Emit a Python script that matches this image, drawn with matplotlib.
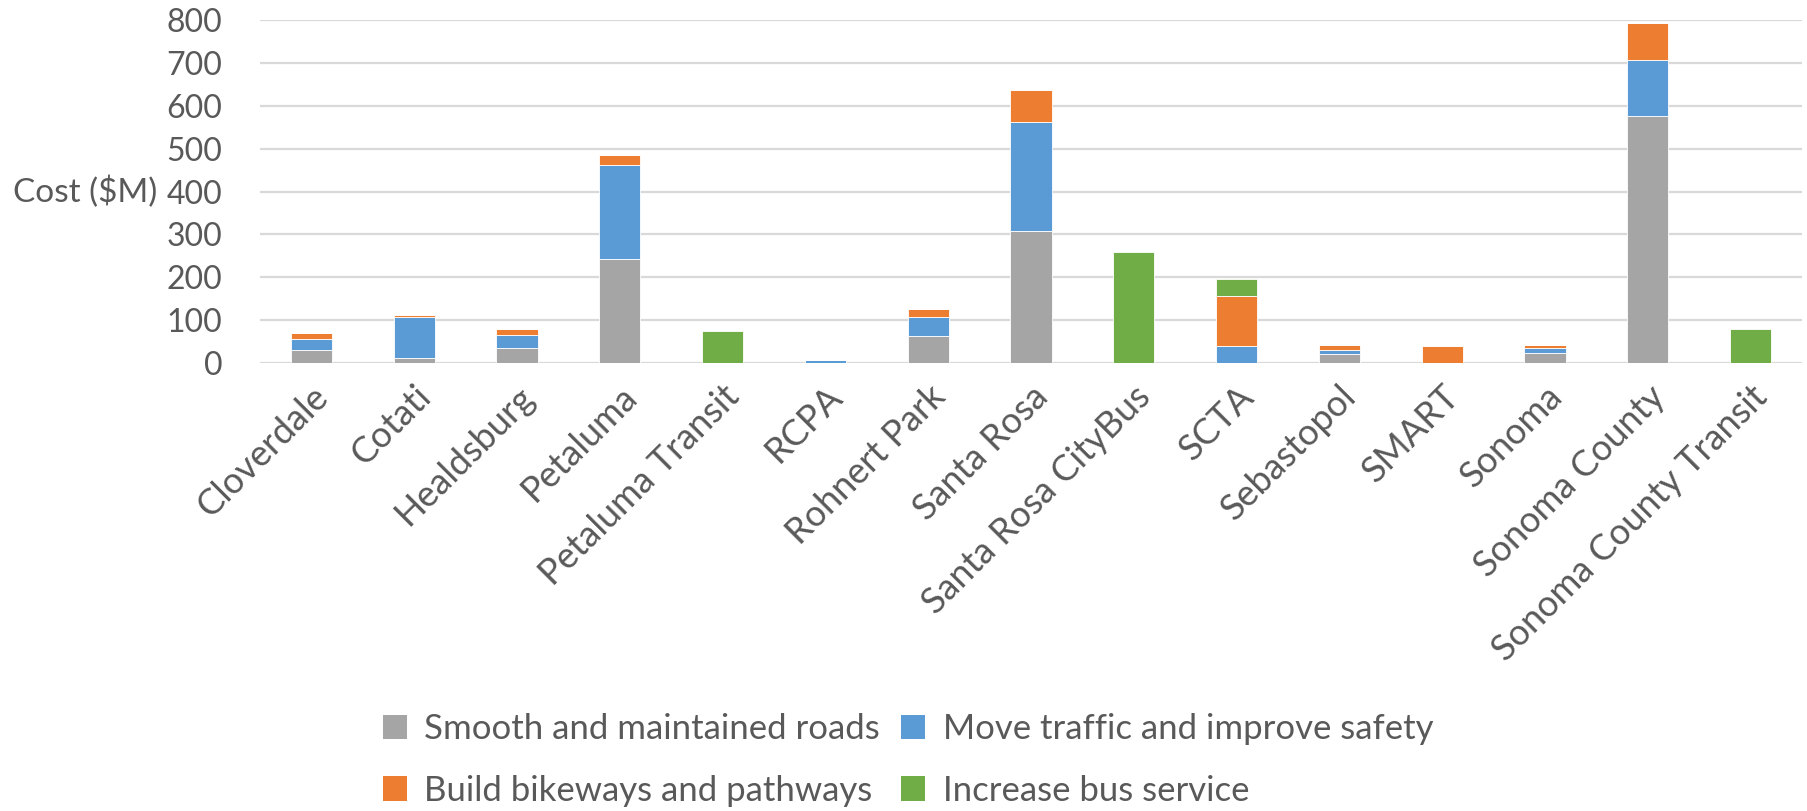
import numpy as np
import matplotlib
matplotlib.use('Agg')
import matplotlib.pyplot as plt
from matplotlib.patches import Patch

plt.rcParams['font.family'] = ['Lato', 'DejaVu Sans']

# Данные
agencies = ['Cloverdale', 'Cotati', 'Healdsburg', 'Petaluma', 'Petaluma Transit', 'RCPA',
            'Rohnert Park', 'Santa Rosa', 'Santa Rosa CityBus', 'SCTA', 'Sebastopol',
            'SMART', 'Sonoma', 'Sonoma County', 'Sonoma County Transit']
roads = [30, 11, 35, 243, 0, 0, 62, 308, 0, 0, 21, 0, 23, 577, 0]
traffic = [25, 97, 31, 220, 0, 6, 45, 253, 0, 40, 9, 0, 13, 129, 0]
bikeways = [15, 3, 13, 22, 0, 1, 18, 75, 0, 116, 13, 40, 6, 86, 0]
bus = [0, 0, 0, 0, 75, 0, 0, 0, 259, 40, 0, 0, 0, 0, 79]

series = ['Smooth and maintained roads', 'Move traffic and improve safety',
          'Build bikeways and pathways', 'Increase bus service']
colors = ['#A5A5A5', '#5B9BD5', '#ED7D31', '#70AD47']

fig = plt.figure(figsize=(18.08, 8.11), dpi=100)
ax = fig.add_axes([0.1438, 0.5524, 0.8529, 0.4229])

x = np.arange(len(agencies))
bottom = np.zeros(len(agencies))
for vals, c in zip([roads, traffic, bikeways, bus], colors):
    ax.bar(x, vals, width=0.4, bottom=bottom, color=c, edgecolor='white', linewidth=0.6, zorder=3)
    bottom += np.array(vals)

ax.set_xlim(-0.5, len(agencies) - 0.5)
ax.set_ylim(0, 800)
ax.set_yticks(range(0, 801, 100))
ax.grid(axis='y', color='#D9D9D9', linewidth=1.6, zorder=0)
for s in ax.spines.values():
    s.set_visible(False)
ax.tick_params(axis='both', length=0, labelcolor='#595959')
ax.tick_params(axis='y', pad=27, labelsize=23)
ax.set_xticks(x)
ax.set_xticklabels(agencies, rotation=45, ha='right', rotation_mode='anchor')
ax.tick_params(axis='x', pad=12, labelsize=26)

fig.text(13 / 1808, 1 - 192 / 811, 'Cost ($M)', fontsize=24, color='#595959', va='center', ha='left')

# порядок как в Excel: по строкам
order = [0, 2, 1, 3]
handles = [Patch(facecolor=colors[i], edgecolor='none') for i in order]
labels = [series[i] for i in order]
fig.legend(handles, labels, loc='center', bbox_to_anchor=(908 / 1808, 1 - 760 / 811), ncol=2,
           frameon=False, fontsize=25, labelcolor='#595959', handlelength=0.7, handleheight=0.7,
           handletextpad=0.5, columnspacing=0.6, labelspacing=0.85)

fig.savefig('out.png', dpi=100)
